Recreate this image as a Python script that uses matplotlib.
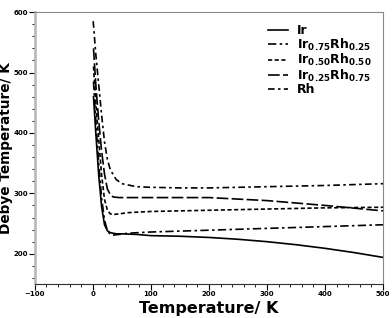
import numpy as np
import matplotlib
matplotlib.use("Agg")
import matplotlib.pyplot as plt
from matplotlib.ticker import MultipleLocator

# Debye temperature vs temperature for Ir-Rh alloys

labels = ["Ir", r"Ir$_{\mathbf{0.75}}$Rh$_{\mathbf{0.25}}$",
          r"Ir$_{\mathbf{0.50}}$Rh$_{\mathbf{0.50}}$",
          r"Ir$_{\mathbf{0.25}}$Rh$_{\mathbf{0.75}}$", "Rh"]

T_ir = [1, 5, 10, 15, 20, 25, 30, 40, 50, 75, 100, 150, 200, 250, 300, 350, 400, 450, 500]
theta_ir = [460, 400, 330, 278, 248, 238, 235, 233, 233, 232, 230, 229, 227, 224, 220, 215, 209, 202, 194]

T_mix = [1, 5, 10, 15, 20, 25, 30, 35, 45, 60, 100, 200, 300, 400, 500]
theta_75 = [485, 420, 350, 292, 256, 238, 232, 231, 232, 234, 236, 239, 242, 245, 248]
theta_50 = [510, 450, 390, 330, 290, 272, 266, 265, 266, 268, 270, 272, 274, 276, 277]
theta_25 = [540, 480, 420, 370, 332, 307, 298, 294, 293, 293, 293, 293, 288, 280, 271]

T_rh = [0.5, 5, 10, 15, 20, 25, 30, 40, 50, 75, 100, 150, 200, 300, 400, 500]
theta_rh = [585, 530, 480, 430, 385, 356, 339, 323, 316, 311, 310, 309, 309, 311, 313, 316]

fig = plt.figure(figsize=(3.92, 3.18), dpi=100)
ax = fig.add_axes([0.089, 0.107, 0.888, 0.855])

ax.plot(T_ir, theta_ir, color="black", lw=1.2, linestyle="-", label=labels[0])
ax.plot(T_mix, theta_75, color="black", lw=1.2, linestyle=(0, (5, 2, 1.5, 2)), label=labels[1])
ax.plot(T_mix, theta_50, color="black", lw=1.2, linestyle=(0, (2.5, 1.5)), label=labels[2])
ax.plot(T_mix, theta_25, color="black", lw=1.2, linestyle=(0, (7, 2)), label=labels[3])
ax.plot(T_rh, theta_rh, color="black", lw=1.2, linestyle=(0, (4, 2, 1.5, 2)), label=labels[4])

ax.set_xlim(-100, 500)
ax.set_ylim(150, 600)
ax.xaxis.set_major_locator(MultipleLocator(100))
ax.xaxis.set_minor_locator(MultipleLocator(20))
ax.yaxis.set_major_locator(MultipleLocator(100))
ax.yaxis.set_minor_locator(MultipleLocator(20))
ax.tick_params(which="major", direction="out", length=4, width=0.8, labelsize=5, pad=1)
ax.tick_params(which="minor", direction="out", length=2, width=0.6)
for lab in ax.get_xticklabels() + ax.get_yticklabels():
    lab.set_fontweight("bold")

ax.spines["left"].set_color("#b5b5b5")
ax.spines["left"].set_linewidth(1.8)
ax.spines["top"].set_color("#888888")
ax.spines["right"].set_color("#888888")
ax.spines["bottom"].set_color("#333333")

ax.set_xlabel("Temperature/ K", fontsize=11.5, fontweight="bold")
ax.set_ylabel("Debye Temperature/ K", fontsize=9.8, fontweight="bold")
ax.xaxis.set_label_coords(0.5, -0.062)
ax.yaxis.set_label_coords(-0.064, 0.5)

leg = ax.legend(loc="upper left", frameon=False, handlelength=1.6, handletextpad=0.7,
                labelspacing=-0.05, borderpad=0, borderaxespad=0,
                prop={"weight": "bold", "size": 9},
                bbox_to_anchor=(0.67, 0.955))

fig.savefig("out.png", dpi=100)
